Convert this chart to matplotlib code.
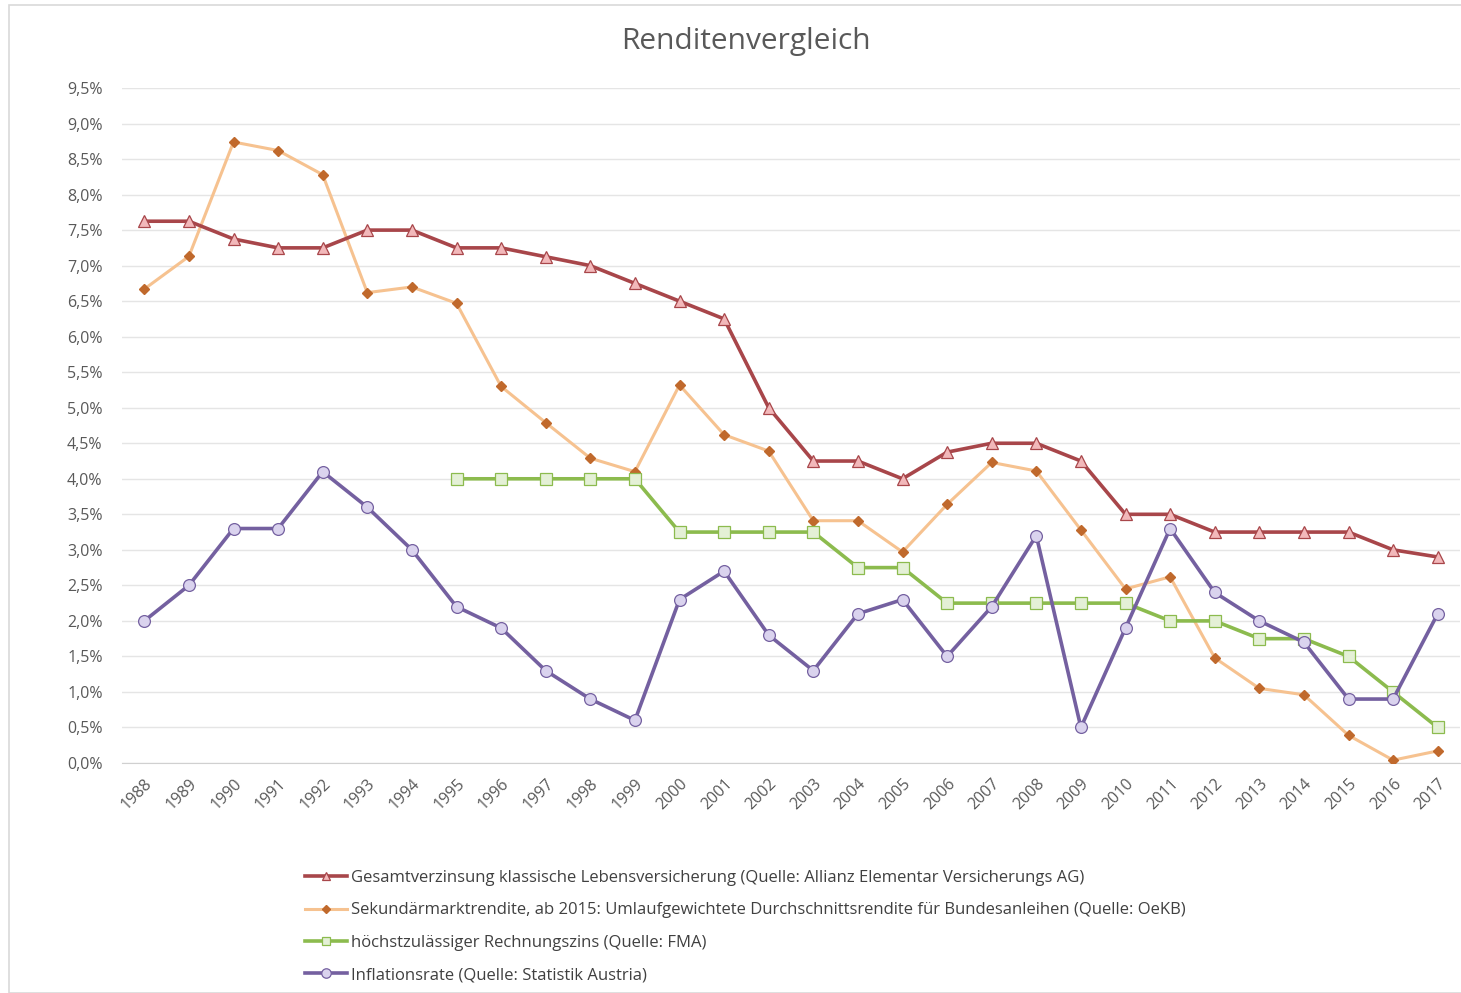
import matplotlib
matplotlib.use("Agg")
import matplotlib.pyplot as plt
from matplotlib.patches import Rectangle
from matplotlib.ticker import FuncFormatter
import numpy as np

years = [str(y) for y in range(1988, 2018)]

gesamt = [7.625, 7.625, 7.375, 7.25, 7.25, 7.5, 7.5, 7.25, 7.25, 7.125,
          7.0, 6.75, 6.5, 6.25, 5.0, 4.25, 4.25, 4.0, 4.375, 4.5,
          4.5, 4.25, 3.5, 3.5, 3.25, 3.25, 3.25, 3.25, 3.0, 2.9]
sekundaer = [6.67, 7.13, 8.74, 8.62, 8.28, 6.62, 6.70, 6.47, 5.30, 4.79,
             4.29, 4.10, 5.32, 4.62, 4.39, 3.41, 3.41, 2.97, 3.64, 4.23,
             4.11, 3.28, 2.45, 2.62, 1.48, 1.05, 0.96, 0.39, 0.04, 0.17]
rechnungszins = [None, None, None, None, None, None, None, 4.0, 4.0, 4.0,
                 4.0, 4.0, 3.25, 3.25, 3.25, 3.25, 2.75, 2.75, 2.25, 2.25,
                 2.25, 2.25, 2.25, 2.0, 2.0, 1.75, 1.75, 1.5, 1.0, 0.5]
inflation = [2.0, 2.5, 3.3, 3.3, 4.1, 3.6, 3.0, 2.2, 1.9, 1.3,
             0.9, 0.6, 2.3, 2.7, 1.8, 1.3, 2.1, 2.3, 1.5, 2.2,
             3.2, 0.5, 1.9, 3.3, 2.4, 2.0, 1.7, 0.9, 0.9, 2.1]

labels = [
    "Gesamtverzinsung klassische Lebensversicherung (Quelle: Allianz Elementar Versicherungs AG)",
    "Sekundärmarktrendite, ab 2015: Umlaufgewichtete Durchschnittsrendite für Bundesanleihen (Quelle: OeKB)",
    "höchstzulässiger Rechnungszins (Quelle: FMA)",
    "Inflationsrate (Quelle: Statistik Austria)",
]
yticks = [i * 0.5 for i in range(20)]

plt.rcParams['font.family'] = ['Open Sans', 'DejaVu Sans']

W, H = 1461, 993
fig = plt.figure(figsize=(W / 100, H / 100), dpi=100)
fig.patch.set_facecolor('white')

# chart border
fig.patches.append(Rectangle((9 / W, 0), 1.2, 1 - 5 / H, transform=fig.transFigure,
                             fill=False, edgecolor='#D9D9D9', linewidth=1.2))

ax = fig.add_axes([122 / W, 1 - 763 / H, (1460 - 122) / W, (763 - 88) / H])
x = np.arange(len(years))

def to_arr(v):
    return np.array([np.nan if a is None else a for a in v], dtype=float)

ax.plot(x, to_arr(gesamt), color='#A8464A', lw=2.6, marker='^', ms=8,
        mfc='#F2B8BA', mec='#A8464A', mew=0.9, label=labels[0], zorder=4)
ax.plot(x, to_arr(sekundaer), color='#F6C290', lw=2.2, marker='D', ms=5.5,
        mfc='#C0692C', mec='#C0692C', label=labels[1], zorder=3)
ax.plot(x, to_arr(rechnungszins), color='#8CBB4E', lw=2.6, marker='s', ms=8,
        mfc='#E4F0D6', mec='#8CBB4E', mew=0.9, label=labels[2], zorder=3)
ax.plot(x, to_arr(inflation), color='#7460A0', lw=2.6, marker='o', ms=8.5,
        mfc='#DAD3EE', mec='#7460A0', mew=0.9, label=labels[3], zorder=5)

ax.set_xlim(-0.5, len(years) - 0.5)
ax.set_ylim(0, 9.5)
ax.set_yticks(yticks)
ax.yaxis.set_major_formatter(FuncFormatter(lambda v, p: f"{v:.1f}%".replace('.', ',')))
ax.set_xticks(x)
ax.set_xticklabels(years, rotation=45, ha='right', va='top', rotation_mode='anchor')
ax.tick_params(axis='both', length=0, labelsize=11.5, colors='#595959')
ax.tick_params(axis='y', pad=14)
ax.tick_params(axis='x', pad=9)
ax.grid(axis='y', color='#E5E5E5', linewidth=1)
ax.set_axisbelow(True)
for s in ['top', 'right', 'left']:
    ax.spines[s].set_visible(False)
ax.spines['bottom'].set_color('#D0D0D0')

fig.text(746 / W, 1 - 42 / H, "Renditenvergleich", ha='center', va='center',
         fontsize=21.5, color='#595959')

handles, lbls = ax.get_legend_handles_labels()
leg = fig.legend(handles, lbls, loc='upper left', bbox_to_anchor=(290 / W, 1 - 855 / H),
                 frameon=False, fontsize=12, handlelength=2.5, handletextpad=0.25,
                 labelspacing=0.98, labelcolor='#404040', markerscale=0.8)

fig.savefig("out.png", dpi=100, facecolor='white')
